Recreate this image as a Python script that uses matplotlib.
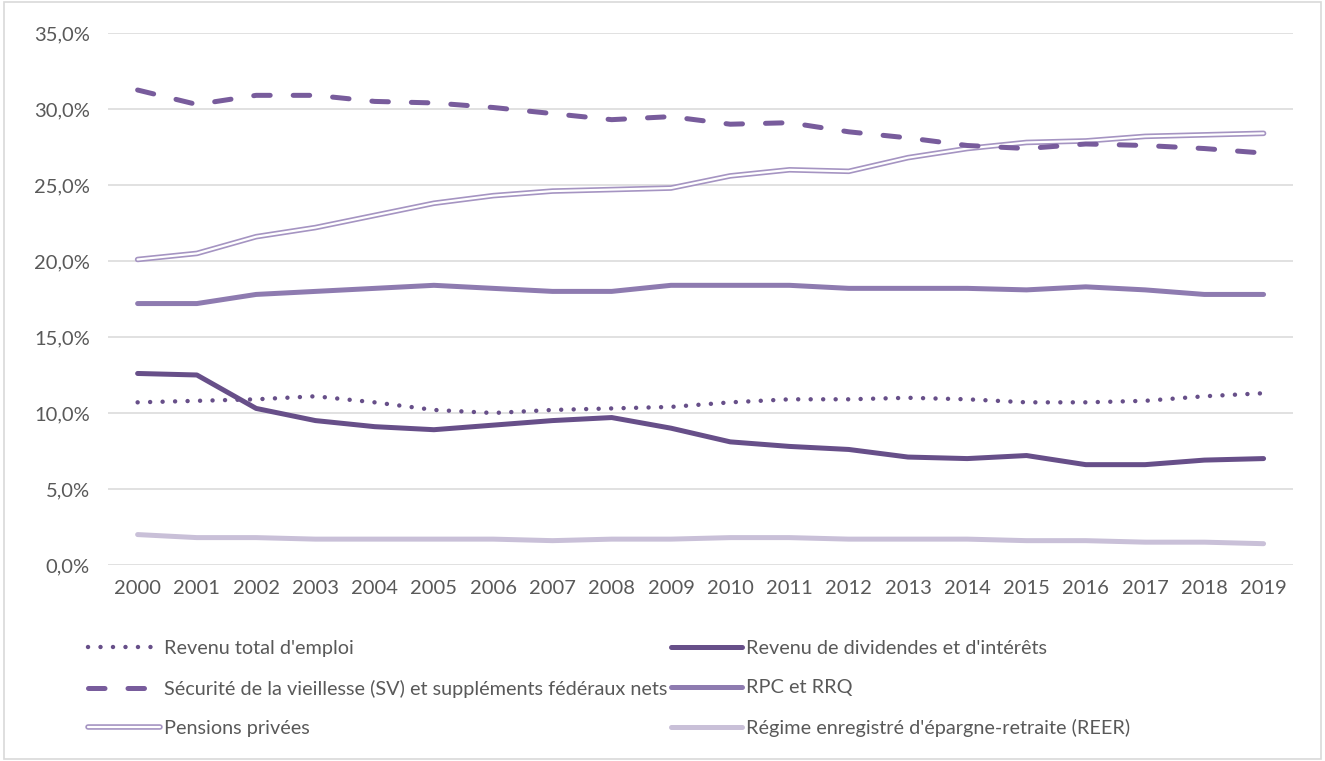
import matplotlib.pyplot as plt
from matplotlib.legend_handler import HandlerTuple
from matplotlib.patches import Rectangle
from matplotlib.ticker import FuncFormatter

plt.rcParams['font.family'] = ['Lato', 'DejaVu Sans']

years = list(range(2000, 2020))

emploi = [10.7, 10.8, 10.9, 11.1, 10.7, 10.2, 10.0, 10.2, 10.3, 10.4,
          10.7, 10.9, 10.9, 11.0, 10.9, 10.7, 10.7, 10.8, 11.1, 11.3]
dividendes = [12.6, 12.5, 10.3, 9.5, 9.1, 8.9, 9.2, 9.5, 9.7, 9.0,
              8.1, 7.8, 7.6, 7.1, 7.0, 7.2, 6.6, 6.6, 6.9, 7.0]
sv = [31.25, 30.3, 30.9, 30.9, 30.5, 30.4, 30.1, 29.7, 29.3, 29.5,
      29.0, 29.1, 28.5, 28.1, 27.6, 27.4, 27.7, 27.6, 27.4, 27.1]
rpc = [17.2, 17.2, 17.8, 18.0, 18.2, 18.4, 18.2, 18.0, 18.0, 18.4,
       18.4, 18.4, 18.2, 18.2, 18.2, 18.1, 18.3, 18.1, 17.8, 17.8]
pensions = [20.1, 20.5, 21.6, 22.2, 23.0, 23.8, 24.3, 24.6, 24.7, 24.8,
            25.6, 26.0, 25.9, 26.8, 27.4, 27.8, 27.9, 28.2, 28.3, 28.4]
reer = [2.0, 1.8, 1.8, 1.7, 1.7, 1.7, 1.7, 1.6, 1.7, 1.7,
        1.8, 1.8, 1.7, 1.7, 1.7, 1.6, 1.6, 1.5, 1.5, 1.4]

labels = ["Revenu total d'emploi",
          "Revenu de dividendes et d'intérêts",
          "Sécurité de la vieillesse (SV) et suppléments fédéraux nets",
          "RPC et RRQ",
          "Pensions privées",
          "Régime enregistré d'épargne-retraite (REER)"]

c_dark = '#674f89'
c_sv = '#785c9c'
c_rpc = '#8e7bb0'
c_pens = '#a594c2'
c_reer = '#c9c0d8'
txt = '#595959'

fig = plt.figure(figsize=(13.25, 7.61), dpi=100)
ax = fig.add_axes([0.0815, 0.2576, 0.8945, 0.699])

x = list(range(len(years)))

l_reer, = ax.plot(x, reer, color=c_reer, lw=3.6, solid_capstyle='round')
l_div, = ax.plot(x, dividendes, color=c_dark, lw=3.6, solid_capstyle='round')
l_emp, = ax.plot(x, emploi, color=c_dark, lw=3.2, linestyle=(0, (0.01, 2.8)),
                 dash_capstyle='round')
l_rpc, = ax.plot(x, rpc, color=c_rpc, lw=3.6, solid_capstyle='round')
l_po, = ax.plot(x, pensions, color=c_pens, lw=4.0, solid_capstyle='round')
l_pi, = ax.plot(x, pensions, color='white', lw=1.6, solid_capstyle='round')
l_sv, = ax.plot(x, sv, color=c_sv, lw=3.6, linestyle=(0, (3.3, 4.6)),
                dash_capstyle='round')

ax.set_xlim(-0.5, len(years) - 0.5)
ax.set_ylim(0, 35)
ax.set_yticks([0, 5, 10, 15, 20, 25, 30, 35])
ax.yaxis.set_major_formatter(FuncFormatter(lambda v, p: f"{v:.1f}%".replace('.', ',')))
ax.set_xticks(x)
ax.set_xticklabels([str(y) for y in years])
ax.grid(axis='y', color='#d9d9d9', lw=1.1)
ax.set_axisbelow(True)
for s in ax.spines.values():
    s.set_visible(False)
ax.tick_params(length=0, labelsize=14.5, labelcolor=txt)
ax.tick_params(axis='y', pad=13)
ax.tick_params(axis='x', pad=11)

handles = [l_emp, l_sv, (l_po, l_pi), l_div, l_rpc, l_reer]
order = [labels[0], labels[2], labels[4], labels[1], labels[3], labels[5]]
leg = fig.legend(handles, order, ncol=2, loc='upper left',
                 bbox_to_anchor=(0.053, 0.183), frameon=False,
                 fontsize=14.3, labelcolor=txt, handlelength=3.6,
                 handletextpad=0.2, columnspacing=0.2, labelspacing=1.15,
                 handler_map={tuple: HandlerTuple(ndivide=1, pad=0)})

fig.patches.append(Rectangle((0.003, 0.003), 0.994, 0.994, transform=fig.transFigure,
                             fill=False, edgecolor='#d9d9d9', lw=1.2))

fig.savefig('out.png', dpi=100)
